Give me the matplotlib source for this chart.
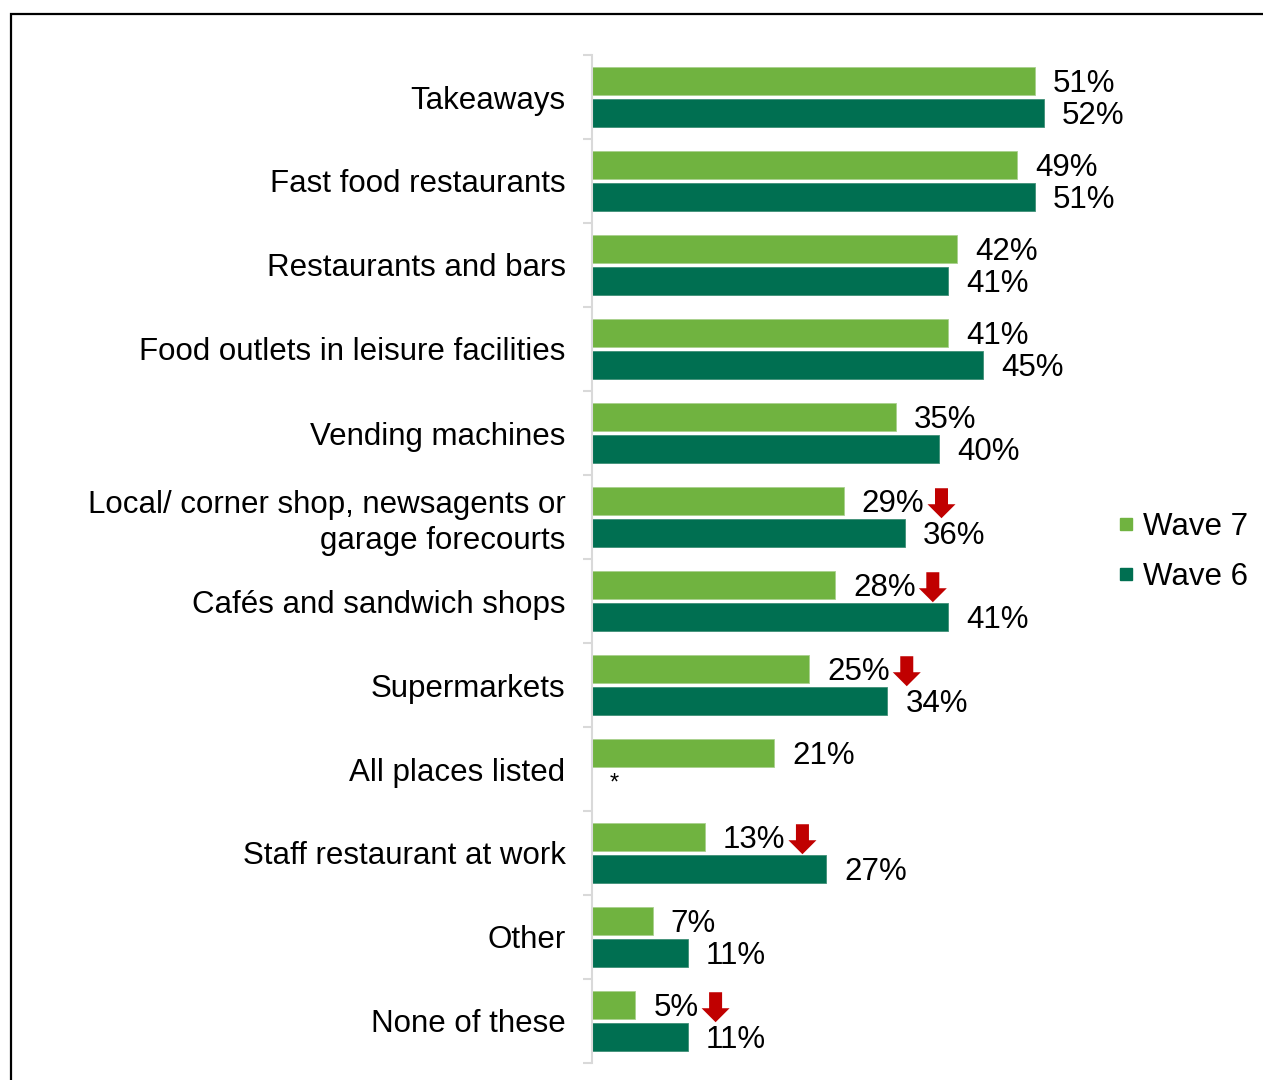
import matplotlib
matplotlib.use("Agg")
import matplotlib.pyplot as plt
from matplotlib.patches import Rectangle, Polygon
from matplotlib.lines import Line2D
from matplotlib.transforms import IdentityTransform

plt.rcParams["font.family"] = ["Liberation Sans", "DejaVu Sans"]

categories = [
    "Takeaways",
    "Fast food restaurants",
    "Restaurants and bars",
    "Food outlets in leisure facilities",
    "Vending machines",
    "Local/ corner shop, newsagents or\ngarage forecourts",
    "Cafés and sandwich shops",
    "Supermarkets",
    "All places listed",
    "Staff restaurant at work",
    "Other",
    "None of these",
]
wave7 = [51, 49, 42, 41, 35, 29, 28, 25, 21, 13, 7, 5]
wave6 = [52, 51, 41, 45, 40, 36, 41, 34, None, 27, 11, 11]
significant_drop = [False, False, False, False, False, True, True, True, False, True, False, True]
series_names = ["Wave 7", "Wave 6"]

C7 = "#70B340"
C6 = "#006F51"
ARROW = "#C00000"
GRID = "#D9D9D9"
FS = 22.5

W, H = 1263, 1080
fig = plt.figure(figsize=(W / 100, H / 100), dpi=100)

# outer frame
fig.add_artist(Rectangle((11 / W, -0.05), 1.2, 1.05 - 14 / H, transform=fig.transFigure,
                         fill=False, edgecolor="black", linewidth=1.6))

ax = fig.add_axes([592 / W, (H - 1063) / H, 521 / W, 1008 / H])
n = len(categories)
off, bh = 0.19, 0.333

labels7 = []
for i, v in enumerate(wave7):
    y = i + 0.5 - off
    ax.barh(y, v, height=bh, color=C7, edgecolor="#A9D08E", linewidth=0.6)
    t = ax.annotate(f"{v}%", (v, y), xytext=(13, -2.3), textcoords="offset points",
                    va="center", ha="left", fontsize=FS)
    labels7.append(t)

for i, v in enumerate(wave6):
    y = i + 0.5 + off
    if v is None:
        ax.annotate("*", (0, y), xytext=(16, 0.8), textcoords="offset points",
                    va="center", ha="center", fontsize=17)
        continue
    ax.barh(y, v, height=bh, color=C6, edgecolor="#3F8F77", linewidth=0.6)
    ax.annotate(f"{v}%", (v, y), xytext=(13, -2.3), textcoords="offset points",
                va="center", ha="left", fontsize=FS)

ax.set_xlim(0, 60)
ax.set_ylim(n, 0)
ax.set_xticks([])
ax.set_yticks([i + 0.5 for i in range(n)], labels=categories, fontsize=FS)
ax.set_yticks(range(n + 1), minor=True)
ax.tick_params(axis="y", which="major", length=0, pad=19)
ax.tick_params(axis="y", which="minor", length=6.5, width=1.5, color=GRID)
for s in ["top", "right", "bottom"]:
    ax.spines[s].set_visible(False)
ax.spines["left"].set_color(GRID)
ax.spines["left"].set_linewidth(1.5)
for lbl in ax.get_yticklabels():
    lbl.set_linespacing(1.25)

handles = [Line2D([], [], ls="none", marker="s", ms=8.5, color=C7),
           Line2D([], [], ls="none", marker="s", ms=8.5, color=C6)]
fig.legend(handles, series_names, loc="center left", bbox_to_anchor=(1101 / W, 1 - 552 / H),
           frameon=False, fontsize=FS, handlelength=0.6, handletextpad=0.25,
           labelspacing=0.65, borderpad=0)

# red down arrows after significant decreases
fig.canvas.draw()
renderer = fig.canvas.get_renderer()
for t, flag in zip(labels7, significant_drop):
    if not flag:
        continue
    bb = t.get_window_extent(renderer)
    x0 = bb.x1 + 3
    yc = (bb.y0 + bb.y1) / 2 + 1
    hw, sw = 14, 6.5
    top, neck, tip = yc + 15, yc - 1, yc - 15
    xc = x0 + hw
    pts = [(xc - sw, top), (xc + sw, top), (xc + sw, neck), (xc + hw, neck),
           (xc, tip), (xc - hw, neck), (xc - sw, neck)]
    fig.add_artist(Polygon(pts, closed=True, transform=IdentityTransform(),
                           facecolor=ARROW, edgecolor="none"))

fig.savefig("out.png", dpi=100)
